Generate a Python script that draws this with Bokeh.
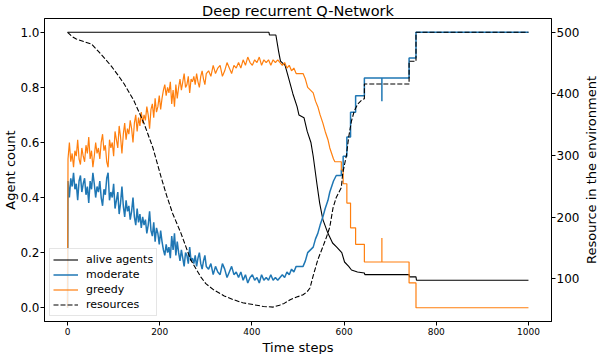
from bokeh.plotting import figure
from bokeh.layouts import row
from bokeh.models import Range1d, LinearAxis, FixedTicker, PrintfTickFormatter, Legend, LegendItem, Title
from bokeh.embed import file_html
from bokeh.resources import INLINE

# ---------------- data ----------------
t_alive = [0, 437, 438, 452, 458, 462, 472, 477, 489, 498, 502, 513, 520, 528, 533, 541, 547, 554,
           565, 575, 584, 595, 601, 610, 616, 629, 644, 645, 741, 742, 756, 757, 1000]
alive = [1.0, 1.0, 0.99, 0.99, 0.93, 0.895, 0.88, 0.85, 0.776, 0.73, 0.70, 0.69, 0.64, 0.60, 0.55,
         0.45, 0.38, 0.32, 0.27, 0.235, 0.22, 0.20, 0.166, 0.15, 0.137, 0.13, 0.126, 0.12, 0.12,
         0.112, 0.112, 0.10, 0.10]

t_agents = ([0] + list(range(1, 302, 3)) + list(range(306, 502, 5)) +
            [506, 511, 516, 521, 527, 533, 538, 543, 548, 554, 559, 565,
             569, 573, 577, 580, 583, 594, 594, 598, 598, 606, 606, 614,
             614, 625, 625, 644, 644, 682, 682, 682, 741, 741, 756, 756, 1000])

moderate = [0.0,
            0.46, 0.40, 0.47, 0.44, 0.49, 0.43, 0.45, 0.39, 0.46, 0.48, 0.42, 0.45,
            0.47, 0.41, 0.44, 0.38, 0.46, 0.43, 0.49, 0.45, 0.40, 0.44, 0.42,
            0.46, 0.40, 0.37, 0.43, 0.41, 0.47, 0.49, 0.39, 0.42,
            0.40, 0.45, 0.36, 0.39, 0.42, 0.34, 0.38, 0.44, 0.37, 0.33, 0.39, 0.35,
            0.37, 0.32, 0.35, 0.40, 0.33, 0.30, 0.36, 0.31, 0.34, 0.29, 0.33, 0.30,
            0.32, 0.27, 0.30, 0.35, 0.28, 0.26, 0.31, 0.24, 0.29, 0.27, 0.23, 0.28,
            0.24, 0.21, 0.19, 0.23, 0.20, 0.22, 0.18, 0.26, 0.21, 0.27, 0.19, 0.24,
            0.20, 0.17, 0.21, 0.18, 0.15, 0.20, 0.19, 0.16, 0.22, 0.17, 0.18,
            0.16, 0.19, 0.15, 0.18, 0.20, 0.16, 0.14, 0.17, 0.19, 0.15,
            0.14, 0.16, 0.12, 0.15, 0.13, 0.12, 0.16, 0.14, 0.11, 0.13, 0.15, 0.12, 0.13,
            0.11, 0.13, 0.10, 0.12, 0.09, 0.11, 0.12, 0.10, 0.11, 0.09, 0.12, 0.10, 0.11,
            0.10, 0.12, 0.10, 0.11, 0.10,
            0.11, 0.12, 0.11, 0.13, 0.12, 0.14, 0.13, 0.15, 0.15,
            0.15, 0.15, 0.17, 0.20, 0.21, 0.22, 0.25, 0.27, 0.30, 0.33,
            0.36, 0.39, 0.42, 0.44, 0.46, 0.47, 0.48, 0.48, 0.50, 0.50,
            0.55, 0.55, 0.62, 0.62, 0.71, 0.71, 0.77, 0.77, 0.834, 0.834,
            0.75, 0.834, 0.834, 0.907, 0.907, 1.0, 1.0]

greedy = [0.0,
          0.54, 0.60, 0.53, 0.56, 0.51, 0.57, 0.55, 0.61, 0.54, 0.52, 0.58, 0.55,
          0.53, 0.59, 0.56, 0.62, 0.54, 0.57, 0.51, 0.55, 0.60, 0.56, 0.58,
          0.54, 0.60, 0.63, 0.57, 0.59, 0.53, 0.51, 0.61, 0.58,
          0.60, 0.55, 0.64, 0.61, 0.58, 0.66, 0.62, 0.56, 0.63, 0.67, 0.61, 0.65,
          0.63, 0.68, 0.65, 0.60, 0.67, 0.70, 0.64, 0.69, 0.66, 0.71, 0.67, 0.70,
          0.68, 0.73, 0.70, 0.65, 0.72, 0.74, 0.69, 0.76, 0.71, 0.73, 0.77, 0.72,
          0.76, 0.79, 0.81, 0.77, 0.80, 0.78, 0.82, 0.74, 0.79, 0.73, 0.81, 0.76,
          0.80, 0.83, 0.79, 0.82, 0.85, 0.80, 0.81, 0.84, 0.78, 0.83, 0.82,
          0.84, 0.81, 0.85, 0.82, 0.80, 0.84, 0.86, 0.83, 0.81, 0.85,
          0.86, 0.84, 0.88, 0.85, 0.87, 0.88, 0.84, 0.86, 0.89, 0.87, 0.85, 0.88, 0.87,
          0.89, 0.87, 0.90, 0.88, 0.91, 0.89, 0.88, 0.90, 0.89, 0.91, 0.88, 0.90, 0.89,
          0.90, 0.88, 0.90, 0.89, 0.90,
          0.89, 0.88, 0.89, 0.87, 0.88, 0.86, 0.87, 0.85, 0.85,
          0.85, 0.85, 0.83, 0.80, 0.79, 0.78, 0.75, 0.73, 0.70, 0.67,
          0.64, 0.61, 0.58, 0.56, 0.54, 0.53, 0.53, 0.53, 0.50, 0.50,
          0.45, 0.45, 0.38, 0.38, 0.29, 0.29, 0.23, 0.23, 0.166, 0.166,
          0.253, 0.166, 0.166, 0.09, 0.09, 0.0, 0.0]

t_res = [0, 10, 19, 35, 52, 67, 80, 95, 110, 123, 144, 166, 185, 203, 215, 228, 246, 267, 289, 300,
         317, 340, 360, 380, 403, 425, 446, 460, 470, 483, 500, 511, 520, 526, 533, 543, 554, 562,
         569, 576, 583, 594, 597, 605, 610, 616, 622, 630, 638, 644, 644, 741, 741, 756, 756, 1000]
resources = [500, 493, 489, 485, 481, 469, 458, 445, 430, 416, 389, 352, 313, 265, 235, 206, 174, 131,
             103, 92, 82, 72, 66, 61, 58, 55, 54, 57, 60, 66, 71, 74, 79, 85, 105, 131, 152, 168, 184,
             215, 232, 248, 271, 300, 330, 356, 372, 384, 390, 392, 416, 416, 453, 453, 500, 500]

x_ticks = [0, 200, 400, 600, 800, 1000]
y_ticks = [0.0, 0.2, 0.4, 0.6, 0.8, 1.0]
res_ticks = [100, 200, 300, 400, 500]

TITLE = "Deep recurrent Q-Network"
X_LABEL = "Time steps"
Y_LABEL = "Agent count"
Y2_LABEL = "Resource in the environment"

BLUE = "#1f77b4"
ORANGE = "#ff7f0e"
FONT = "DejaVu Sans"

W_MAIN, W_SIDE, H = 582, 16, 354

# ---------------- main figure ----------------
p = figure(width=W_MAIN, height=H, output_backend="svg", toolbar_location=None,
           x_range=Range1d(-50, 1050), y_range=Range1d(-0.05, 1.05),
           title=TITLE,
           min_border_left=42, min_border_right=28, min_border_top=17, min_border_bottom=32)
p.extra_y_ranges = {"res": Range1d(30.6, 522.4)}

p.title.align = "center"
p.title.text_font = FONT
p.title.text_font_size = "14.5px"
p.title.text_font_style = "normal"
p.title.text_color = "black"
p.title.standoff = 0
p.title.offset = 0

p.xgrid.visible = False
p.ygrid.visible = False
p.outline_line_color = "black"
p.outline_line_width = 1
p.outline_line_alpha = 1
p.background_fill_color = "white"
p.border_fill_color = "white"


def style_axis(ax, tick_size, tick_standoff):
    ax.axis_line_color = "black"
    ax.major_tick_line_color = "black"
    ax.major_tick_out = 4
    ax.major_tick_in = 0
    ax.minor_tick_out = 0
    ax.minor_tick_in = 0
    ax.minor_tick_line_color = None
    ax.major_label_text_font = FONT
    ax.major_label_text_font_size = tick_size
    ax.major_label_text_color = "black"
    ax.major_label_standoff = tick_standoff


def side_title(text):
    return Title(text=text, align="center", text_font=FONT, text_font_size="13px",
                 text_font_style="normal", text_color="black", standoff=0, offset=0)


xa = p.xaxis[0]
xa.ticker = FixedTicker(ticks=x_ticks)
style_axis(xa, "9px", 2)

ya = p.yaxis[0]
ya.ticker = FixedTicker(ticks=y_ticks)
ya.formatter = PrintfTickFormatter(format="%.1f")
style_axis(ya, "12px", 1)

ra = LinearAxis(y_range_name="res", ticker=FixedTicker(ticks=res_ticks))
style_axis(ra, "12px", 1)
p.add_layout(ra, "right")

p.add_layout(side_title(X_LABEL), "below")
p.add_layout(side_title(Y_LABEL), "left")

# ---------------- lines ----------------
r_alive = p.line(t_alive, alive, line_color="black", line_width=1.1)
r_mod = p.line(t_agents, moderate, line_color=BLUE, line_width=1.5)
r_greedy = p.line(t_agents, greedy, line_color=ORANGE, line_width=1.2)
r_res = p.line(t_res, resources, line_color="black", line_width=1.1, line_dash="5 2",
               y_range_name="res")

legend = Legend(items=[LegendItem(label="alive agents", renderers=[r_alive]),
                       LegendItem(label="moderate", renderers=[r_mod]),
                       LegendItem(label="greedy", renderers=[r_greedy]),
                       LegendItem(label="resources", renderers=[r_res])],
                location="bottom_left")
legend.label_text_font = FONT
legend.label_text_font_size = "11px"
legend.label_text_color = "black"
legend.glyph_width = 25
legend.glyph_height = 15
legend.label_height = 15
legend.label_standoff = 8
legend.spacing = 0
legend.padding = 3
legend.margin = 5
legend.border_line_color = "#cccccc"
legend.border_line_width = 1
legend.background_fill_color = "white"
legend.background_fill_alpha = 0.8
p.add_layout(legend)

# ---------------- narrow strip carrying the right-hand axis title ----------------
q = figure(width=W_SIDE, height=H, output_backend="svg", toolbar_location=None,
           x_axis_location=None, y_axis_location=None,
           min_border_left=0, min_border_right=0, min_border_top=17, min_border_bottom=32)
q.grid.visible = False
q.outline_line_color = None
q.background_fill_color = "white"
q.border_fill_color = "white"
q.add_layout(side_title(Y2_LABEL), "left")

layout = row(p, q, spacing=0)

open("out.html", "w").write(file_html(layout, INLINE))
